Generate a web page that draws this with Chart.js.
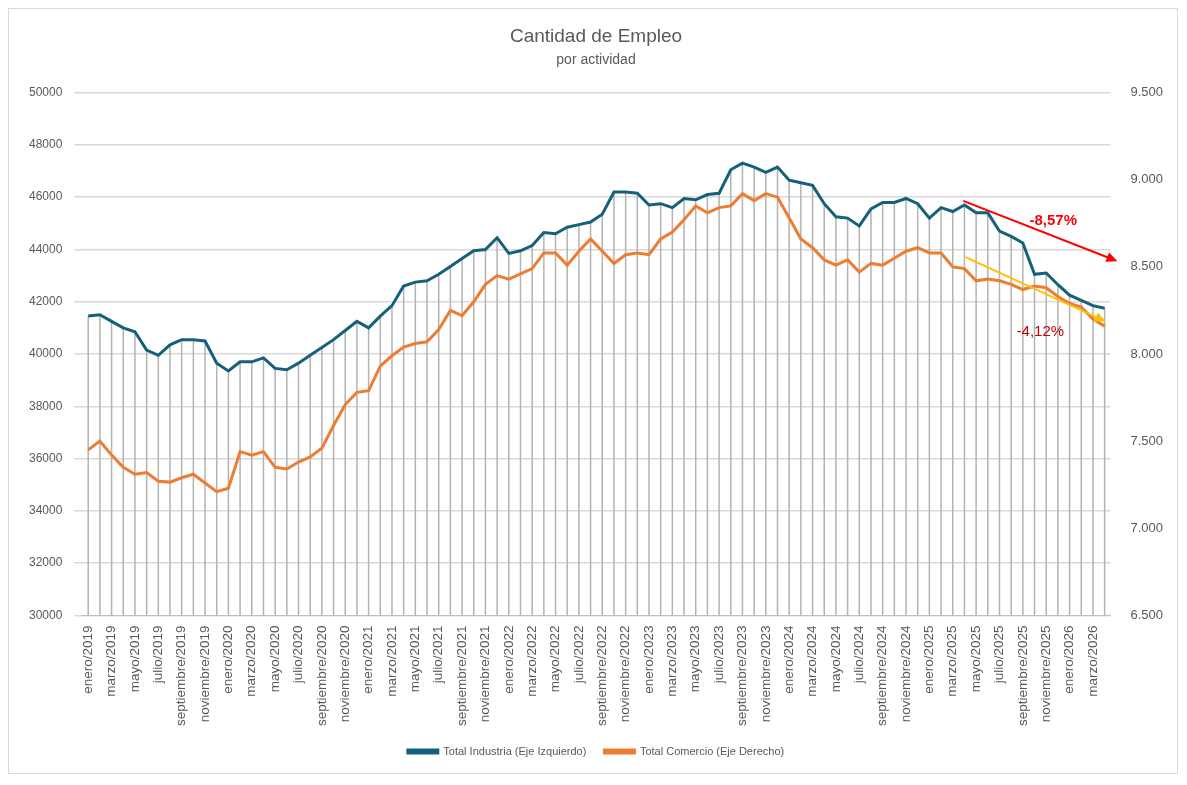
<!DOCTYPE html>
<html><head><meta charset="utf-8">
<script src="https://cdn.jsdelivr.net/npm/chart.js@4.4.1/dist/chart.umd.min.js"></script>
<style>html,body{margin:0;padding:0;background:#fff}#wrap{position:absolute;left:8px;top:8px;width:1168px;height:764px;border:1px solid #d9d9d9}</style>
</head><body><div id="wrap"><canvas id="c"></canvas></div>
<script>
const meses=["enero","febrero","marzo","abril","mayo","junio","julio","agosto","septiembre","octubre","noviembre","diciembre"];
const categories=[];
for(let y=2019;y<=2026;y++)for(let m=0;m<12;m++){if(y===2026&&m>3)break;categories.push(meses[m]+"/"+y);}
const industria=[41450,41500,41250,41000,40850,40150,39950,40350,40550,40550,40500,39650,
39350,39700,39700,39850,39450,39400,39650,39950,40250,40550,40900,41250,
41000,41450,41850,42600,42750,42800,43050,43350,43650,43950,44000,44450,
43850,43950,44150,44650,44600,44850,44950,45050,45350,46200,46200,46150,
45700,45750,45600,45950,45900,46100,46150,47050,47300,47150,46950,47150,
46650,46550,46450,45750,45250,45200,44900,45550,45800,45800,45950,45750,
45200,45600,45450,45700,45400,45400,44700,44500,44250,43050,43100,42650,
42250,42050,41850,41750];
const comercio=[7450,7500,7420,7350,7310,7320,7270,7265,7290,7310,7260,7210,
7230,7440,7420,7440,7350,7340,7380,7410,7460,7590,7710,7780,
7790,7930,7990,8040,8060,8070,8140,8250,8220,8300,8400,8450,
8430,8460,8490,8580,8580,8510,8590,8660,8590,8520,8570,8580,
8570,8660,8700,8770,8850,8810,8840,8850,8920,8880,8920,8900,
8780,8660,8610,8540,8510,8540,8470,8520,8510,8550,8590,8610,
8580,8580,8500,8490,8420,8430,8420,8400,8370,8390,8380,8330,
8290,8270,8200,8160];
const leftTicks=[30000,32000,34000,36000,38000,40000,42000,44000,46000,48000,50000];
const rightTicks=[6500,7000,7500,8000,8500,9000,9500];
const arrowRed={from:[74.9,45860],to:[88.1,43550],axis:'y',color:'#ff0000',label:'-8,57%',lx:82.6,lv:45100,bold:true,lc:'#ff0000'};
const arrowYel={from:[75.1,8556],to:[87.1,8186],axis:'y1',color:'#ffc000',label:'-4,12%',lx:81.5,lv:8130,bold:false,lc:'#c00000'};

const dropLines={id:'drop',beforeDatasetsDraw(ch){
 const {ctx,scales:{x,y}}=ch;ctx.save();ctx.strokeStyle='#b3b3b3';ctx.lineWidth=1.5;
 industria.forEach((v,i)=>{const px=x.getPixelForValue(i);ctx.beginPath();ctx.moveTo(px,y.getPixelForValue(v));ctx.lineTo(px,y.bottom);ctx.stroke();});
 ctx.restore();}};
function xp(x,i){const a=x.getPixelForValue(0),b=x.getPixelForValue(1);return a+(b-a)*i;}
const arrows={id:'arrows',afterDatasetsDraw(ch){
 const {ctx,scales}=ch;
 [arrowRed,arrowYel].forEach(a=>{const s=scales[a.axis];
  const x1=xp(scales.x,a.from[0]),y1=s.getPixelForValue(a.from[1]),x2=xp(scales.x,a.to[0]),y2=s.getPixelForValue(a.to[1]);
  ctx.save();ctx.strokeStyle=a.color;ctx.fillStyle=a.color;ctx.lineWidth=2;
  const ang=Math.atan2(y2-y1,x2-x1),h=11;
  ctx.beginPath();ctx.moveTo(x1,y1);ctx.lineTo(x2-h*0.8*Math.cos(ang),y2-h*0.8*Math.sin(ang));ctx.stroke();
  ctx.beginPath();ctx.moveTo(x2,y2);ctx.lineTo(x2-h*Math.cos(ang)+5*Math.sin(ang),y2-h*Math.sin(ang)-5*Math.cos(ang));
  ctx.lineTo(x2-h*Math.cos(ang)-5*Math.sin(ang),y2-h*Math.sin(ang)+5*Math.cos(ang));ctx.closePath();ctx.fill();
  ctx.fillStyle=a.lc;ctx.font=(a.bold?'bold ':'')+'15px "Liberation Sans", Arial';ctx.textAlign='center';ctx.textBaseline='middle';
  ctx.fillText(a.label,xp(scales.x,a.lx),s.getPixelForValue(a.lv));ctx.restore();});
}};
new Chart(document.getElementById('c'),{type:'line',
 data:{labels:categories,datasets:[
  {label:'Total Industria (Eje Izquierdo)',data:industria,borderColor:'#15607a',backgroundColor:'#15607a',borderWidth:3,pointRadius:0,yAxisID:'y',tension:0},
  {label:'Total Comercio (Eje Derecho)',data:comercio,borderColor:'#ed7d31',backgroundColor:'#ed7d31',borderWidth:3,pointRadius:0,yAxisID:'y1',tension:0}]},
 options:{responsive:true,maintainAspectRatio:false,animation:false,
  layout:{padding:{left:8,right:2,top:6,bottom:6}},
  plugins:{title:{display:true,text:'Cantidad de Empleo',color:'#595959',font:{size:19,family:'"Liberation Sans", Arial',weight:'normal'},padding:{top:10,bottom:4}},
   subtitle:{display:true,text:'por actividad',color:'#595959',font:{size:14,family:'"Liberation Sans", Arial'},padding:{bottom:24}},
   legend:{position:'bottom',labels:{color:'#595959',font:{size:11,family:'"Liberation Sans", Arial'},boxWidth:30,boxHeight:3,padding:18}},
   tooltip:{enabled:false}},
  scales:{
   x:{offset:true,grid:{display:false},border:{color:'#bfbfbf'},
    ticks:{autoSkip:false,maxRotation:90,minRotation:90,padding:2,color:'#595959',font:{size:13.5,family:'"Liberation Sans", Arial'},
     callback:function(v,i){return i%2===0?categories[i]:'';}}},
   y:{position:'left',min:30000,max:50000,afterBuildTicks:s=>{s.ticks=leftTicks.map(v=>({value:v}));},
    grid:{color:'#d9d9d9',lineWidth:1.5},border:{display:false},
    ticks:{color:'#595959',font:{size:12,family:'"Liberation Sans", Arial'},padding:12,callback:v=>String(v)}},
   y1:{position:'right',min:6500,max:9500,afterBuildTicks:s=>{s.ticks=rightTicks.map(v=>({value:v}));},
    grid:{display:false},border:{display:false},
    ticks:{color:'#595959',font:{size:13,family:'"Liberation Sans", Arial'},padding:12,callback:v=>v.toLocaleString('de-DE')}}
  }},
 plugins:[dropLines,arrows]});
</script></body></html>
